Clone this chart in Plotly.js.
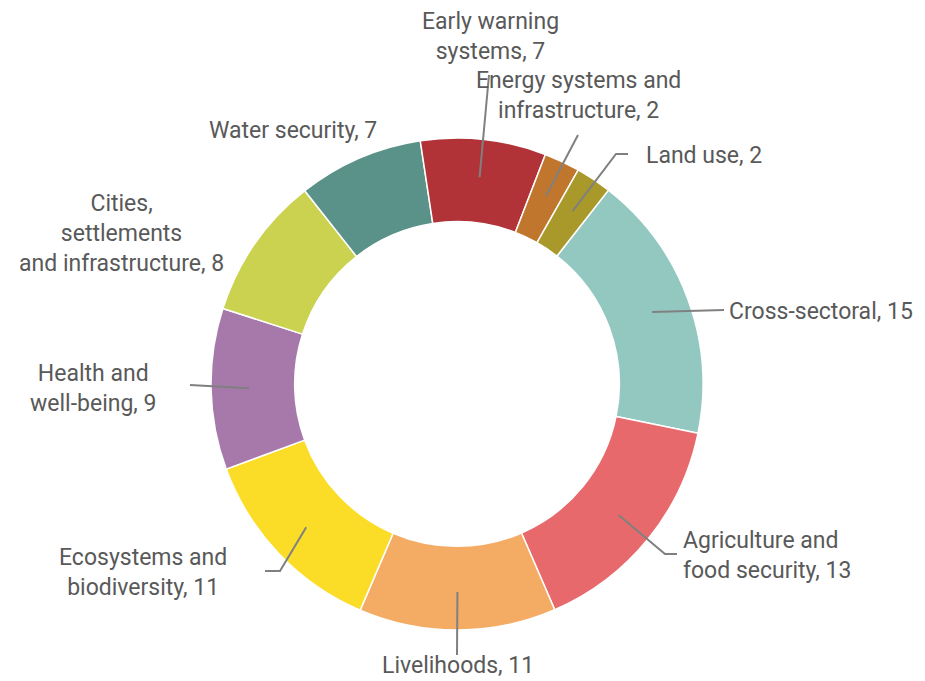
<!DOCTYPE html>
<html>
<head>
<meta charset="utf-8">
<script src="https://cdn.plot.ly/plotly-3.0.1.min.js"></script>
<style>html,body{margin:0;padding:0;background:#fff;}#chart{width:925px;height:681px;}</style>
</head>
<body>
<div id="chart"></div>
<script>
// ---- data ----
const categories = ["Cross-sectoral", "Agriculture and food security", "Livelihoods", "Ecosystems and biodiversity",
  "Health and well-being", "Cities, settlements and infrastructure", "Water security", "Early warning systems",
  "Energy systems and infrastructure", "Land use"];
const labelTexts = ["Cross-sectoral, 15", "Agriculture and<br>food security, 13", "Livelihoods, 11", "Ecosystems and<br>biodiversity, 11",
  "Health and<br>well-being, 9", "Cities,<br>settlements<br>and infrastructure, 8", "Water security, 7", "Early warning<br>systems, 7",
  "Energy systems and<br>infrastructure, 2", "Land use, 2"];
const values = [15, 13, 11, 11, 9, 8, 7, 7, 2, 2];
const colors = ["#93C8C1", "#E8696B", "#F4AB64", "#FBDD28", "#A779AA", "#CAD24F", "#5A9189", "#B13337", "#C1762E", "#A8992A"];

// ---- layout / style config (pixels) ----
const W = 925, H = 681;
const CX = 457, CY = 384, R = 246, HOLE = 0.66;
const ROTATION = 38;
const LINE_R = 208;
// per-label placement: elbow (optional), end of leader (optional), text anchor
const placement = [
  {end: [724, 310], tx: 727, ty: 311, xa: "left", al: "left"},
  {elbow: [665, 554], end: [677, 554], tx: 681, ty: 555, xa: "left", al: "left"},
  {end: [457, 655], tx: 458, ty: 665, xa: "center", al: "center"},
  {elbow: [280, 571], end: [265, 571], tx: 143, ty: 572, xa: "center", al: "center"},
  {end: [190, 385], tx: 93, ty: 388, xa: "center", al: "center"},
  {tx: 121, ty: 233, xa: "center", al: "center"},
  {tx: 293, ty: 131, xa: "center", al: "center"},
  {end: [489, 75], tx: 490, ty: 37, xa: "center", al: "center"},
  {end: [578, 135], tx: 578, ty: 96, xa: "center", al: "center"},
  {elbow: [616, 154], end: [628, 154], tx: 644, ty: 155, xa: "left", al: "left"}
];

const px = x => x / W;
const py = y => 1 - y / H;

const total = values.reduce((a, b) => a + b, 0);
let acc = 0;
const shapes = [], annotations = [];
values.forEach((v, i) => {
  const mid = (ROTATION + (acc + v / 2) / total * 360) * Math.PI / 180;
  acc += v;
  const p = placement[i];
  if (p.end) {
    const sx = CX + LINE_R * Math.sin(mid), sy = CY - LINE_R * Math.cos(mid);
    let path = `M ${px(sx)},${py(sy)}`;
    if (p.elbow) path += ` L ${px(p.elbow[0])},${py(p.elbow[1])}`;
    path += ` L ${px(p.end[0])},${py(p.end[1])}`;
    shapes.push({type: "path", xref: "paper", yref: "paper", path: path,
      line: {color: "#808080", width: 2}});
  }
  annotations.push({xref: "paper", yref: "paper", x: px(p.tx), y: py(p.ty),
    xanchor: p.xa, yanchor: "middle", align: p.al, showarrow: false,
    text: labelTexts[i], font: {family: "Roboto, sans-serif", size: 23, color: "#595959"}});
});

const trace = {
  type: "pie",
  labels: categories,
  values: values,
  sort: false,
  direction: "clockwise",
  rotation: ROTATION,
  hole: HOLE,
  textinfo: "none",
  hoverinfo: "label+value",
  marker: {colors: colors, line: {color: "#ffffff", width: 1.5}},
  domain: {x: [px(CX - R), px(CX + R)], y: [py(CY + R), py(CY - R)]}
};

Plotly.newPlot("chart", [trace], {
  width: W, height: H,
  margin: {l: 0, r: 0, t: 0, b: 0},
  showlegend: false,
  paper_bgcolor: "#ffffff",
  shapes: shapes,
  annotations: annotations
}, {displayModeBar: false, staticPlot: true});
</script>
</body>
</html>
